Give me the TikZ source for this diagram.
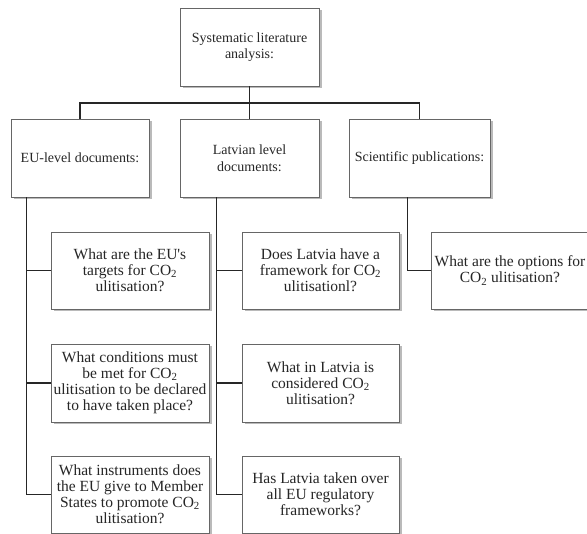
\documentclass[tikz,border=0pt]{standalone}
\usepackage{fontspec}
\setmainfont{Liberation Serif}
\usetikzlibrary{shadows}
\begin{document}
\begin{tikzpicture}[x=1pt,y=-1pt,
  box/.style={draw=black!60, line width=0.8pt, fill=white, align=center,
    inner sep=1pt, font=\fontsize{15.5}{16}\selectfont, text=black!85,
    drop shadow={shadow xshift=2.5pt, shadow yshift=-2.5pt, fill=black!45, opacity=0.6}},
  headbox/.style={box, font=\fontsize{14}{16.5}\selectfont},
  conn/.style={draw=black!85, line width=1.3pt}]
\useasboundingbox (0,0) rectangle (587,534);
\begin{scope}
\clip (0,0) rectangle (587,534);
% top
\node[headbox, minimum width=139pt, minimum height=78pt] (top) at (249.5,47) {Systematic literature\\analysis:};
% level 2
\node[headbox, minimum width=138pt, minimum height=78pt] (eu) at (80,158) {EU-level documents:};
\node[headbox, minimum width=139pt, minimum height=78pt] (lv) at (249.5,158) {Latvian level\\documents:};
\node[headbox, minimum width=141pt, minimum height=78pt] (sci) at (419.5,158) {Scientific publications:};
% EU questions
\node[box, minimum width=158pt, minimum height=77pt] (e1) at (130,270.5) {What are the EU\textquotesingle s\\targets for CO\textsubscript{2}\\ulitisation?};
\node[box, minimum width=158pt, minimum height=78pt] (e2) at (130,383) {What conditions must\\be met for CO\textsubscript{2}\\ulitisation to be declared\\to have taken place?};
\node[box, minimum width=158pt, minimum height=77pt] (e3) at (130,494.5) {What instruments does\\the EU give to Member\\States to promote CO\textsubscript{2}\\ulitisation?};
% Latvian questions
\node[box, minimum width=157pt, minimum height=77pt] (l1) at (320.5,270.5) {Does Latvia have a\\framework for CO\textsubscript{2}\\ulitisationl?};
\node[box, minimum width=157pt, minimum height=78pt] (l2) at (320.5,383) {What in Latvia is\\considered CO\textsubscript{2}\\ulitisation?};
\node[box, minimum width=157pt, minimum height=77pt] (l3) at (320.5,494.5) {Has Latvia taken over\\all EU regulatory\\frameworks?};
% Scientific question
\node[box, minimum width=158pt, minimum height=77pt, inner sep=0pt] (s1) at (510,270.5) {What are the options for\\CO\textsubscript{2} ulitisation?};
% connectors
\coordinate (j) at (249.5,103);
\draw[conn] (top.south) -- (j);
\draw[conn] (eu.north) |- (j) -| (sci.north);
\draw[conn] (j) -- (lv.north);
\path (eu.south west) ++(16,0) coordinate (eut);
\path (lv.south west) ++(37,0) coordinate (lvt);
\path (sci.south west) ++(59,0) coordinate (sct);
\draw[conn] (eut) |- (e3.west);
\draw[conn] (eut |- e1.west) -- (e1.west);
\draw[conn] (eut |- e2.west) -- (e2.west);
\draw[conn] (lvt) |- (l3.west);
\draw[conn] (lvt |- l1.west) -- (l1.west);
\draw[conn] (lvt |- l2.west) -- (l2.west);
\draw[conn] (sct) |- (s1.west);
\end{scope}
\end{tikzpicture}
\end{document}
